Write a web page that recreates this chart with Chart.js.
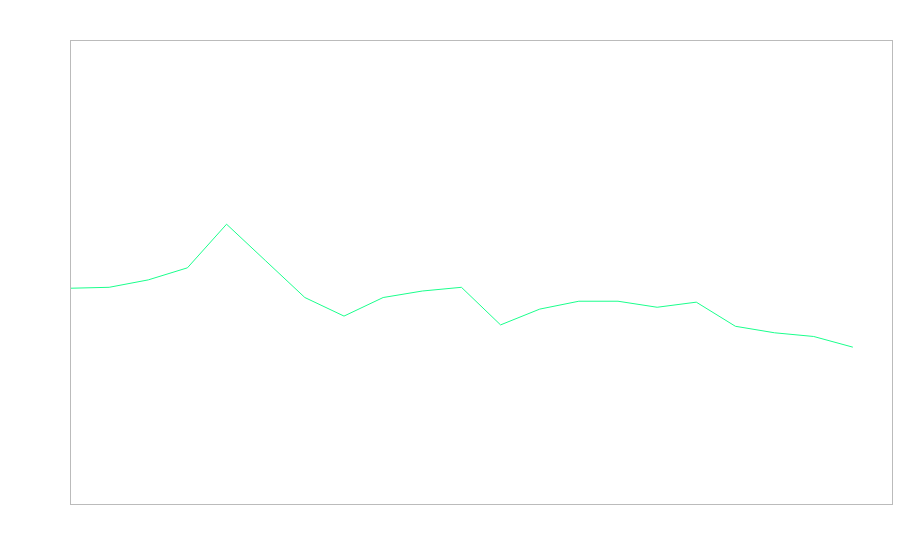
<!DOCTYPE html>
<html>
<head>
<meta charset="utf-8">
<script src="https://cdn.jsdelivr.net/npm/chart.js@4"></script>
<style>
  body { margin: 0; background: #fff; }
  canvas { display: block; }
</style>
</head>
<body>
<canvas id="chart" width="900" height="560"></canvas>
<script>
// one value per step, 21 points on an axis that runs to 21
const steps = [0, 1, 2, 3, 4, 5, 6, 7, 8, 9, 10, 11, 12, 13, 14, 15, 16, 17, 18, 19, 20];
const values = [46.5, 46.7, 48.3, 50.9, 60.3, 52.4, 44.5, 40.5, 44.5, 45.9, 46.7,
                38.6, 42.0, 43.7, 43.7, 42.4, 43.5, 38.3, 36.9, 36.1, 33.8];

const frame = {
  id: "frame",
  afterDraw(chart) {
    const { ctx, chartArea: a } = chart;
    ctx.save();
    ctx.strokeStyle = "#bbbbbb";
    ctx.lineWidth = 1;
    ctx.strokeRect(a.left + 0.5, a.top + 0.5, a.right - a.left, a.bottom - a.top);
    ctx.restore();
  }
};

new Chart(document.getElementById("chart"), {
  type: "line",
  data: {
    datasets: [{
      data: steps.map((s, i) => ({ x: s, y: values[i] })),
      borderColor: "#1aff8c",
      borderWidth: 1,
      pointRadius: 0,
      tension: 0,
      fill: false
    }]
  },
  options: {
    responsive: false,
    animation: false,
    layout: { padding: { left: 70, top: 40, right: 8, bottom: 56 } },
    plugins: { legend: { display: false }, tooltip: { enabled: false } },
    scales: {
      x: { type: "linear", min: 0, max: 21, display: false },
      y: { min: 0, max: 100, display: false }
    }
  },
  plugins: [frame]
});
</script>
</body>
</html>
